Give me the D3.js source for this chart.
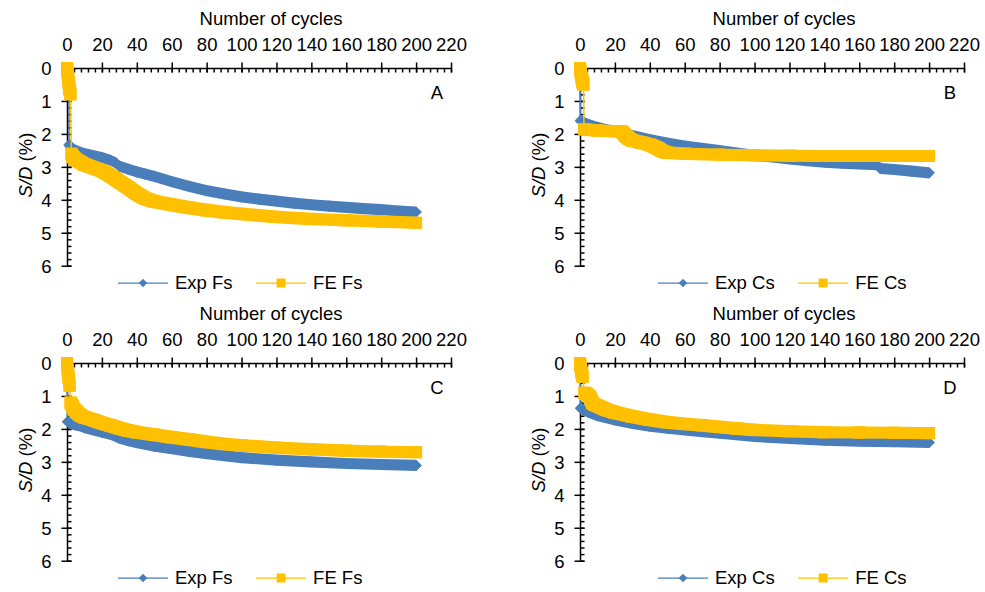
<!DOCTYPE html>
<html><head><meta charset="utf-8">
<script src="https://cdn.jsdelivr.net/npm/d3@7"></script>
<style>
body{margin:0;background:#fff}
svg{display:block}
text{font-family:"Liberation Sans",Arial,sans-serif;font-size:18.5px;fill:#000}
</style>
</head><body>
<svg id="c" width="985" height="592"></svg>
<script>
// ---- tick labels / categories ----
const xTicks = [0,20,40,60,80,100,120,140,160,180,200,220];
const yTicks = [0,1,2,3,4,5,6];
const xMinorStep = 4;
const yMinorStep = 0.2;
const panelLetters = ["A","B","C","D"];
const legendNames = [["Exp Fs","FE Fs"],["Exp Cs","FE Cs"],["Exp Fs","FE Fs"],["Exp Cs","FE Cs"]];
const xTitle = "Number of cycles";

// ---- Panel A ----
const expFsA_cyc = [0,1,1.2,2,5,10,15,20,25,28,30,35,40,45,50,60,70,80,90,100,110,120,130,140,150,160,170,180,190,200];
const expFsA_sd  = [0,0.15,2.33,2.4,2.5,2.6,2.66,2.72,2.8,2.88,2.98,3.07,3.15,3.22,3.29,3.45,3.59,3.72,3.82,3.91,3.98,4.04,4.1,4.15,4.19,4.23,4.27,4.3,4.34,4.37];
const feFsA_cyc  = [0,0.5,1,1.5,2,2.5,3,5,10,15,20,25,30,35,40,45,50,60,70,80,90,100,120,140,160,180,200];
const feFsA_sd   = [0,0.2,0.45,0.65,0.8,2.6,2.68,2.78,2.93,3.03,3.12,3.27,3.45,3.63,3.82,3.97,4.05,4.15,4.24,4.32,4.38,4.43,4.52,4.58,4.62,4.66,4.7];

// ---- Panel B ----
const expCsB_cyc = [0,0.2,2,5,10,15,20,25,30,40,50,60,70,80,90,100,110,120,130,140,150,160,170,172,180,190,200];
const expCsB_sd  = [0,1.6,1.65,1.72,1.8,1.87,1.92,1.98,2.05,2.17,2.28,2.37,2.44,2.51,2.58,2.65,2.7,2.76,2.81,2.86,2.89,2.91,2.93,3.05,3.08,3.13,3.18];
const feCsB_cyc  = [0,0.5,1,1.5,2,2.3,5,10,15,20,24,26,28,30,35,40,44,47,50,60,80,100,120,140,170,200];
const feCsB_sd   = [0,0.15,0.3,0.42,0.5,1.86,1.88,1.9,1.91,1.92,1.93,2.05,2.15,2.2,2.26,2.33,2.42,2.52,2.57,2.6,2.63,2.65,2.66,2.67,2.67,2.67];

// ---- Panel C ----
const expFsC_cyc = [0,0.3,2,5,8,10,15,20,25,30,35,40,50,60,70,80,90,100,120,140,160,180,200];
const expFsC_sd  = [0,1.78,1.84,1.88,1.92,1.96,2.03,2.1,2.17,2.28,2.36,2.42,2.52,2.6,2.68,2.75,2.81,2.87,2.95,3.0,3.05,3.08,3.11];
const feFsC_cyc  = [0,0.5,1,1.5,2,3,4,5,6,7,8,10,15,20,25,30,35,40,50,60,70,80,90,100,120,140,160,180,200];
const feFsC_sd   = [0,0.25,0.45,0.69,1.2,1.3,1.4,1.45,1.5,1.56,1.6,1.65,1.73,1.82,1.9,1.98,2.05,2.1,2.18,2.25,2.32,2.4,2.46,2.5,2.57,2.62,2.66,2.69,2.71];

// ---- Panel D ----
const expCsD_cyc = [0,0.3,2,5,10,20,30,40,50,60,70,80,100,120,140,160,180,200];
const expCsD_sd  = [0,1.37,1.42,1.5,1.6,1.73,1.83,1.92,1.98,2.03,2.08,2.13,2.23,2.29,2.34,2.37,2.39,2.41];
const feCsD_cyc  = [0,0.5,1,1.5,2.5,3,4,5,6,7,8,10,15,20,30,40,50,60,70,80,90,100,120,140,160,180,200];
const feCsD_sd   = [0,0.15,0.3,0.42,0.9,0.92,0.95,1.0,1.05,1.2,1.25,1.3,1.42,1.5,1.62,1.72,1.8,1.85,1.89,1.94,1.99,2.03,2.07,2.1,2.11,2.12,2.13];

const panels = [
  {exp:[expFsA_cyc,expFsA_sd], fe:[feFsA_cyc,feFsA_sd]},
  {exp:[expCsB_cyc,expCsB_sd], fe:[feCsB_cyc,feCsB_sd]},
  {exp:[expFsC_cyc,expFsC_sd], fe:[feFsC_cyc,feFsC_sd]},
  {exp:[expCsD_cyc,expCsD_sd], fe:[feCsD_cyc,feCsD_sd]}
];

// ---- layout / style ----
const layout = [{ox:67,oy:68,leg:118},{ox:580,oy:68,leg:658},{ox:67,oy:363,leg:118},{ox:580,oy:363,leg:658}];
const W = 384, H = 197.7;
const BLUE = '#4a7ebb', GOLD = '#ffc000';
const diamond = (cx,cy,r)=>[[cx,cy-r],[cx+r,cy],[cx,cy+r],[cx-r,cy]];
const square  = (cx,cy,r)=>[[cx-r,cy-r],[cx+r,cy-r],[cx+r,cy+r],[cx-r,cy+r]];
const svg = d3.select('#c');

function drawSeries(g,x,y,cyc,val,color,shape,r){
  const pts = cyc.map((c,k)=>[x(c),y(val[k])]);
  g.append('path').attr('d',d3.line()(pts)).attr('fill','none')
    .attr('stroke',color).attr('stroke-width',1.5);
  for(let k=0;k<pts.length-1;k++){
    const [x0,y0]=pts[k],[x1,y1]=pts[k+1];
    if(Math.abs(y1-y0) <= 2*r+1+Math.abs(x1-x0)){
      const hull = d3.polygonHull(shape(x0,y0,r).concat(shape(x1,y1,r)));
      g.append('path').attr('d','M'+hull.join('L')+'Z').attr('fill',color);
    }
  }
  pts.forEach(([px,py])=>g.append('path').attr('d','M'+shape(px,py,r).join('L')+'Z').attr('fill',color));
}

function styleAxis(sel){
  sel.select('.domain').attr('stroke','#000').attr('stroke-width',1.5);
  sel.selectAll('.tick line').attr('stroke','#000').attr('stroke-width',1.5);
}

panels.forEach((p,i)=>{
  const L = layout[i];
  const x = d3.scaleLinear().domain([0,220]).range([L.ox,L.ox+W]);
  const y = d3.scaleLinear().domain([0,6]).range([L.oy,L.oy+H]);
  const g = svg.append('g');

  // minor ticks (inside)
  const xm = g.append('g').attr('transform',`translate(0,${L.oy})`)
    .call(d3.axisTop(x).tickValues(d3.range(0,220+0.001,xMinorStep)).tickSize(-4.5).tickSizeOuter(0).tickFormat(''));
  xm.select('.domain').remove(); styleAxis(xm);
  const ym = g.append('g').attr('transform',`translate(${L.ox},0)`)
    .call(d3.axisLeft(y).tickValues(d3.range(0,6+0.001,yMinorStep)).tickSize(-4.5).tickSizeOuter(0).tickFormat(''));
  ym.select('.domain').remove(); styleAxis(ym);

  // major axes
  const xa = g.append('g').attr('transform',`translate(0,${L.oy})`)
    .call(d3.axisTop(x).tickValues(xTicks).tickSize(5.5).tickSizeOuter(0).tickPadding(11.5).tickFormat(d3.format('d')));
  styleAxis(xa);
  const ya = g.append('g').attr('transform',`translate(${L.ox},0)`)
    .call(d3.axisLeft(y).tickValues(yTicks).tickSize(5.5).tickSizeOuter(0).tickPadding(10).tickFormat(d3.format('d')));
  styleAxis(ya);
  ya.selectAll('.tick text').attr('dy','0.35em');
  // extend major ticks across axis
  xa.selectAll('.tick line').attr('y2',-5.5).attr('y1',4.5);
  ya.selectAll('.tick line').attr('x2',-5.5).attr('x1',4.5);

  // titles
  g.append('text').attr('x',L.ox+W/2+12).attr('y',L.oy-43).attr('text-anchor','middle').text(xTitle);
  const yt = g.append('text').attr('text-anchor','middle')
    .attr('transform',`translate(${L.ox-35.5},${L.oy+97}) rotate(-90)`);
  yt.append('tspan').attr('font-style','italic').style('font-style','italic').text('S/D');
  yt.append('tspan').text(' (%)');
  g.append('text').attr('x',L.ox+370).attr('y',L.oy+30.5).attr('text-anchor','middle').text(panelLetters[i]);

  // series
  drawSeries(g,x,y,p.exp[0],p.exp[1],BLUE,diamond,5.6);
  drawSeries(g,x,y,p.fe[0],p.fe[1],GOLD,square,6);

  // legend
  const ly = L.oy+215;
  let lx = L.leg;
  [[BLUE,diamond,4.3],[GOLD,square,4.5]].forEach(([c,shape,r],k)=>{
    g.append('line').attr('x1',lx).attr('x2',lx+50).attr('y1',ly).attr('y2',ly)
      .attr('stroke',c).attr('stroke-width',1.25);
    g.append('path').attr('d','M'+shape(lx+25,ly,r).join('L')+'Z').attr('fill',c);
    const t = g.append('text').attr('x',lx+57).attr('y',ly+5.8).text(legendNames[i][k]);
    lx = lx+57+t.node().getComputedTextLength()+23.5;
  });
});
</script>
</body></html>
